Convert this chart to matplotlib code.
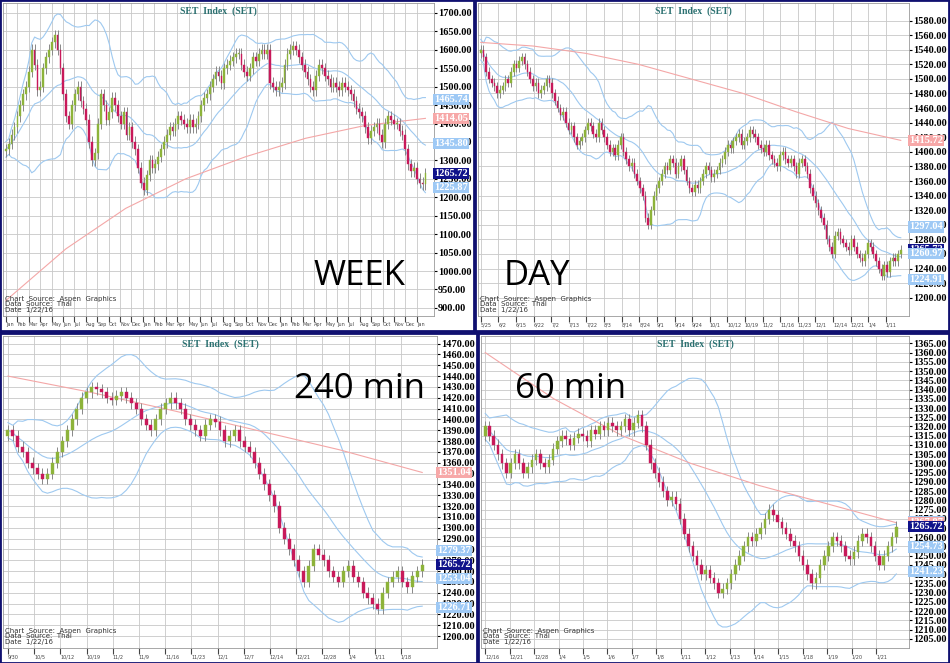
import numpy as np
import pandas as pd
import matplotlib
matplotlib.use("Agg")
import matplotlib.pyplot as plt
from matplotlib.patches import Rectangle

W, H = 950, 663
UP = "#8db33a"
DOWN = "#c8195a"
BAND = "#9ec9f0"
MA = "#f4a7a7"

# ---- data ----
week_close = [1330, 1345, 1370, 1390, 1420, 1450, 1480, 1500, 1540, 1600, 1560, 1490,
              1500, 1550, 1580, 1600, 1620, 1640, 1600, 1550, 1480, 1420, 1400, 1450,
              1480, 1500, 1460, 1440, 1410, 1350, 1300, 1320, 1400, 1480, 1450, 1410,
              1430, 1470, 1450, 1420, 1400, 1430, 1370, 1390, 1350, 1330, 1280, 1240,
              1220, 1260, 1300, 1280, 1290, 1310, 1330, 1350, 1370, 1390, 1380, 1400,
              1420, 1410, 1400, 1390, 1410, 1390, 1400, 1420, 1450, 1470, 1480, 1500,
              1520, 1540, 1530, 1510, 1550, 1560, 1570, 1580, 1590, 1590, 1560, 1540,
              1530, 1550, 1580, 1570, 1590, 1600, 1590, 1600, 1510, 1500, 1490, 1500,
              1510, 1560, 1590, 1600, 1610, 1600, 1580, 1560, 1540, 1520, 1500, 1490,
              1530, 1560, 1550, 1530, 1520, 1500, 1510, 1500, 1490, 1510, 1500, 1490,
              1480, 1460, 1440, 1430, 1420, 1390, 1360, 1380, 1390, 1400, 1370, 1350,
              1400, 1420, 1410, 1400, 1400, 1380, 1370, 1330, 1290, 1270, 1280, 1250,
              1240, 1235, 1265.72]
week_ma = [920, 1060, 1170, 1250, 1310, 1360, 1395, 1414.05]
week_months = ["Jan", "Feb", "Mar", "Apr", "May", "Jun", "Jul", "Aug", "Sep", "Oct", "Nov", "Dec"] * 3 + ["Jan"]
week_tags = [(1465.74, "b"), (1414.05, "p"), (1345.80, "b"), (1265.72, "n"), (1225.87, "b")]

day_close = [1540, 1530, 1510, 1500, 1495, 1490, 1480, 1485,
             1490, 1500, 1495, 1510, 1520, 1515, 1525, 1530, 1520, 1510, 1500, 1490, 1495, 1480, 1485, 1490, 1500, 1495,
             1480, 1470, 1460, 1450, 1455, 1440, 1430, 1435, 1420, 1410, 1415, 1420, 1430, 1440, 1435, 1425, 1420, 1440, 1430, 1420,
             1410, 1400, 1405, 1395, 1410, 1420, 1400, 1390, 1380, 1385, 1370, 1360, 1350, 1340, 1310, 1300, 1320, 1340, 1350, 1360,
             1370, 1380, 1375, 1390, 1385, 1370, 1380, 1390, 1375, 1360, 1350, 1345, 1355, 1350, 1360, 1370, 1380, 1375, 1365, 1370,
             1375, 1385, 1390, 1400, 1410, 1405, 1415, 1420, 1425, 1410, 1415, 1420, 1430, 1425, 1420, 1410, 1405, 1400, 1410, 1395,
             1390, 1385, 1380, 1395, 1400, 1390, 1385, 1390, 1380, 1370, 1385, 1390, 1380, 1370, 1350, 1340, 1330, 1320, 1310, 1300,
             1280, 1270, 1260, 1285, 1290, 1280, 1275, 1270, 1265, 1280, 1270, 1260, 1255, 1250, 1260, 1275, 1270,
             1260, 1250, 1240, 1230, 1245, 1235, 1250, 1255, 1250, 1260, 1265.72]
day_ma = [1550, 1545, 1535, 1520, 1500, 1480, 1455, 1432, 1415.72]
day_months = ["5/25", "6/2", "6/15", "6/22", "7/2", "7/13", "7/22", "8/3", "8/14", "8/24", "9/1", "9/14",
              "9/24", "10/1", "10/12", "10/19", "11/2", "11/16", "11/23", "12/1", "12/14", "12/21", "1/4", "1/11"]
day_tags = [(1415.72, "p"), (1297.04, "b"), (1265.72, "n"), (1260.97, "b"), (1224.91, "b")]

h240_close = [1390, 1385, 1375, 1370, 1360, 1355, 1350, 1345, 1350, 1360, 1370, 1380, 1390, 1400, 1410, 1420,
              1425, 1430, 1428, 1425, 1420, 1418, 1422, 1425,
              1420, 1415, 1410, 1400, 1395, 1390, 1400, 1410, 1415, 1420, 1415, 1410, 1400, 1395, 1390, 1385,
              1395, 1400, 1398, 1390, 1380, 1385, 1390, 1380,
              1375, 1370, 1360, 1350, 1340, 1330, 1320, 1300, 1290, 1280, 1270, 1260, 1250, 1265, 1280, 1275,
              1270, 1260, 1255, 1250, 1260, 1265,
              1255, 1250, 1240, 1235, 1230, 1225, 1240, 1250, 1255, 1260, 1250, 1245, 1255, 1260, 1265.72]
h240_ma = [1440, 1425, 1408, 1390, 1372, 1351.04]
h240_months = ["9/30", "10/5", "10/12", "10/19", "11/2", "11/9", "11/16", "11/23", "12/1", "12/7",
               "12/14", "12/21", "12/28", "1/4", "1/11", "1/18"]
h240_tags = [(1351.04, "p"), (1279.37, "b"), (1265.72, "n"), (1253.04, "b"), (1226.71, "b")]

h60_close = [1320, 1315, 1310, 1305, 1300, 1295, 1300, 1305, 1300, 1295, 1298, 1302, 1305, 1300, 1298, 1302,
             1308, 1312, 1315, 1313, 1310, 1314, 1316, 1315, 1312, 1318, 1316, 1320, 1318, 1322, 1320, 1318,
             1320, 1324, 1318, 1322, 1326, 1320,
             1310, 1300, 1295, 1290, 1285, 1280, 1282, 1278, 1270, 1262, 1255, 1250, 1245, 1240, 1242, 1238,
             1235, 1230, 1232, 1235, 1240, 1245, 1250, 1255, 1260, 1258, 1262, 1265, 1270, 1275, 1272, 1268,
             1265, 1262, 1258, 1255, 1250, 1245, 1240, 1235, 1238, 1245, 1250, 1255, 1260, 1258, 1255, 1250,
             1248, 1252, 1258, 1262, 1260, 1255, 1250, 1245, 1250, 1255, 1260, 1265.72]
h60_ma = [1360, 1335, 1315, 1300, 1288, 1278, 1267.87]
h60_months = ["12/16", "12/21", "12/28", "1/4", "1/5", "1/6", "1/7", "1/8", "1/11", "1/12", "1/13",
              "1/14", "1/15", "1/18", "1/19", "1/20", "1/21"]
h60_tags = [(1268.23, "b"), (1267.87, "p"), (1265.72, "n"), (1254.73, "b"), (1241.23, "b")]

panels = [
    dict(box=(0, 0, 474, 331), close=week_close, ma=week_ma, ticks=np.arange(900, 1701, 50),
         ylim=(878, 1727), xl=week_months, tags=week_tags, wick=15, big="WEEK", bigpos=(0.72, 0.10)),
    dict(box=(475, 0, 474, 331), close=day_close, ma=day_ma, ticks=np.arange(1200, 1581, 20),
         ylim=(1175, 1604), xl=day_months, tags=day_tags, wick=6, big="DAY", bigpos=(0.06, 0.10)),
    dict(box=(0, 333, 477, 330), close=h240_close, ma=h240_ma, ticks=np.arange(1200, 1471, 10),
         ylim=(1189, 1477), xl=h240_months, tags=h240_tags, wick=5, big="240 min", bigpos=(0.67, 0.80)),
    dict(box=(478, 333, 471, 330), close=h60_close, ma=h60_ma, ticks=np.arange(1205, 1366, 5),
         ylim=(1200, 1369), xl=h60_months, tags=h60_tags, wick=3, big="60 min", bigpos=(0.08, 0.80)),
]
TAGC = {"b": ("#9ec9f5", "white"), "p": ("#f7a8a8", "white"), "n": ("#10128a", "white")}

fig = plt.figure(figsize=(W / 100, H / 100), dpi=100)
fig.patch.set_facecolor("white")
serif = ["Liberation Serif", "DejaVu Serif"]


def fbox(x, y, w, h):
    return [x / W, 1 - (y + h) / H, w / W, h / H]


for p in panels:
    x0, y0, bw, bh = p["box"]
    fr = fig.add_axes(fbox(x0, y0, bw, bh))
    fr.set_xticks([]); fr.set_yticks([])
    fr.patch.set_alpha(0)
    for s in fr.spines.values():
        s.set_color("#101070"); s.set_linewidth(2)
    pw = bw - 40
    ax = fig.add_axes(fbox(x0 + 3, y0 + 3, pw - 3, bh - 18))
    c = np.array(p["close"], dtype=float)
    n = len(c)
    o = np.r_[c[0] - 5, c[:-1]]
    idx = np.arange(n)
    s = pd.Series(c)
    mid = s.rolling(20, min_periods=1).mean()
    sd = s.rolling(20, min_periods=2).std().bfill()
    for band in (mid, mid + 2 * sd, mid - 2 * sd):
        ax.plot(idx, band, color=BAND, lw=0.8, zorder=2)
    ax.plot(np.linspace(0, n - 1, len(p["ma"])), p["ma"], color=MA, lw=0.8, zorder=2)
    for i in idx:
        hi = max(o[i], c[i]) + p["wick"]
        lo = min(o[i], c[i]) - p["wick"]
        col = UP if c[i] >= o[i] else DOWN
        ax.vlines(i, lo, hi, color="#888888", lw=0.7, zorder=3)
        ax.add_patch(Rectangle((i - 0.3, min(o[i], c[i])), 0.6, max(abs(c[i] - o[i]), 0.5),
                               facecolor=col, edgecolor=col, lw=0.3, zorder=4))
    ax.set_xlim(-1, n + 2)
    ax.set_ylim(*p["ylim"])
    ax.set_yticks(p["ticks"])
    ax.yaxis.tick_right()
    ax.tick_params(axis="y", length=2, pad=1, labelsize=7.5)
    ax.set_yticklabels([f"{v:.2f}" for v in p["ticks"]])
    for t in ax.get_yticklabels():
        t.set_fontfamily(serif); t.set_fontweight("bold")
    xt = np.linspace(0, n, len(p["xl"]) + 1)[:-1]
    ax.set_xticks(xt)
    ax.set_xticklabels(p["xl"], fontsize=3.5, ha="left")
    ax.tick_params(axis="x", length=4, pad=0.5, direction="out", colors="#444444")
    ax.grid(True, axis="x", color="#c8c8c8", lw=0.6)
    ax.grid(True, axis="y", color="#c8c8c8", lw=0.6)
    ax.set_axisbelow(True)
    for sp in ax.spines.values():
        sp.set_color("#999999"); sp.set_linewidth(0.6)
    ax.set_title("SET  Index  (SET)", fontsize=7, color="#2a7070", fontweight="bold",
                 family=serif, pad=-8, y=1.0)
    for val, k in p["tags"]:
        bg, fg = TAGC[k]
        ax.text(1.0, val, f"{val:.2f}", transform=ax.get_yaxis_transform(), ha="left", va="center",
                fontsize=7.5, family=serif, fontweight="bold", color=fg,
                bbox=dict(boxstyle="square,pad=0.1", fc=bg, ec="none"), zorder=10, clip_on=False)
    ax.text(0.005, 0.01, "Chart  Source:  Aspen  Graphics\nData  Source:  Thai\nDate  1/22/16",
            transform=ax.transAxes, fontsize=5, va="bottom", ha="left", linespacing=0.9, color="#333333")
    ax.text(*p["bigpos"], p["big"], transform=ax.transAxes, fontsize=25, family="Open Sans", color="black")

fig.savefig("out.png", dpi=100)
